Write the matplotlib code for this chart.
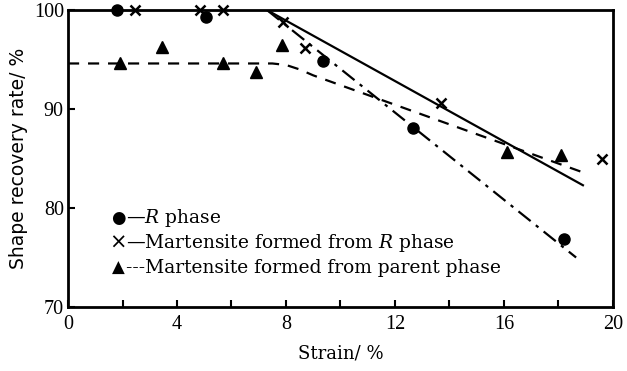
import matplotlib
matplotlib.use('Agg')
import matplotlib.pyplot as plt
from matplotlib.ticker import MultipleLocator

plt.rcParams['font.family'] = ['Liberation Serif', 'DejaVu Sans']
plt.rcParams['mathtext.fontset'] = 'dejavuserif'

# measured points
r_x = [1.8, 5.05, 9.35, 12.65, 18.2]
r_y = [100.0, 99.3, 94.85, 88.1, 76.9]
mr_x = [2.45, 4.85, 5.7, 7.9, 8.7, 13.7, 19.6]
mr_y = [100.0, 100.0, 100.0, 98.8, 96.2, 90.6, 85.0]
mp_x = [1.9, 3.45, 5.7, 6.9, 7.85, 16.1, 18.1]
mp_y = [94.6, 96.3, 94.6, 93.7, 96.5, 85.7, 85.4]

# fitted curves
r_fit_x = [7.3, 18.65]
r_fit_y = [100.0, 75.0]
mr_fit_x = [0.0, 7.3, 18.9]
mr_fit_y = [100.0, 100.0, 82.3]
mp_fit_x = [0.0, 7.5, 8.0, 8.5, 9.0, 18.9]
mp_fit_y = [94.6, 94.6, 94.45, 94.0, 93.4, 83.6]

legend_labels = ['$\\mathit{R}$ phase',
                 'Martensite formed from $\\mathit{R}$ phase',
                 'Martensite formed from parent phase']
legend_glyphs = ['\u25cf', '\u00d7', '\u25b2']
legend_dashes = ['\u2014', '\u2014', '---']

fig = plt.figure(figsize=(6.27, 3.71), dpi=100)
ax = fig.add_axes([0.1085, 0.1725, 0.869, 0.8005])

ax.plot(mr_fit_x, mr_fit_y, '-', color='black', lw=1.6)
ax.plot(r_fit_x, r_fit_y, color='black', lw=1.6, dashes=(7, 3, 1.5, 3))
ax.plot(mp_fit_x, mp_fit_y, color='black', lw=1.6, dashes=(5, 4))

ax.plot(r_x, r_y, 'o', color='black', ms=8, clip_on=False)
ax.plot(mr_x, mr_y, 'x', color='black', ms=7, mew=1.8, clip_on=False)
ax.plot(mp_x, mp_y, '^', color='black', ms=8, clip_on=False)

ax.set_xlim(0, 20)
ax.set_ylim(70, 100)
ax.xaxis.set_major_locator(MultipleLocator(4))
ax.xaxis.set_minor_locator(MultipleLocator(2))
ax.yaxis.set_major_locator(MultipleLocator(10))
ax.tick_params(which='both', direction='in', width=1.5, length=5, labelsize=14.5)
ax.tick_params(axis='x', pad=6)
ax.tick_params(axis='y', pad=3)
for s in ax.spines.values():
    s.set_linewidth(2)

ax.set_xlabel('Strain/ %', fontsize=13, family=['DejaVu Serif'], labelpad=7)
ax.set_ylabel('Shape recovery rate/ %', fontsize=13.5, family=['DejaVu Sans'], labelpad=4)

# legend drawn as text rows
rows_y = [0.30, 0.215, 0.131]
for g, d, lab, yy in zip(legend_glyphs, legend_dashes, legend_labels, rows_y):
    gs = 15 if g == '\u00d7' else 12
    ax.text(0.092, yy, g, transform=ax.transAxes, fontsize=gs, ha='center', va='center',
            family=['DejaVu Sans'])
    ax.text(0.106, yy, d + lab, transform=ax.transAxes, fontsize=13.4, va='center',
            family=['DejaVu Serif'])

fig.savefig('out.png', dpi=100)
